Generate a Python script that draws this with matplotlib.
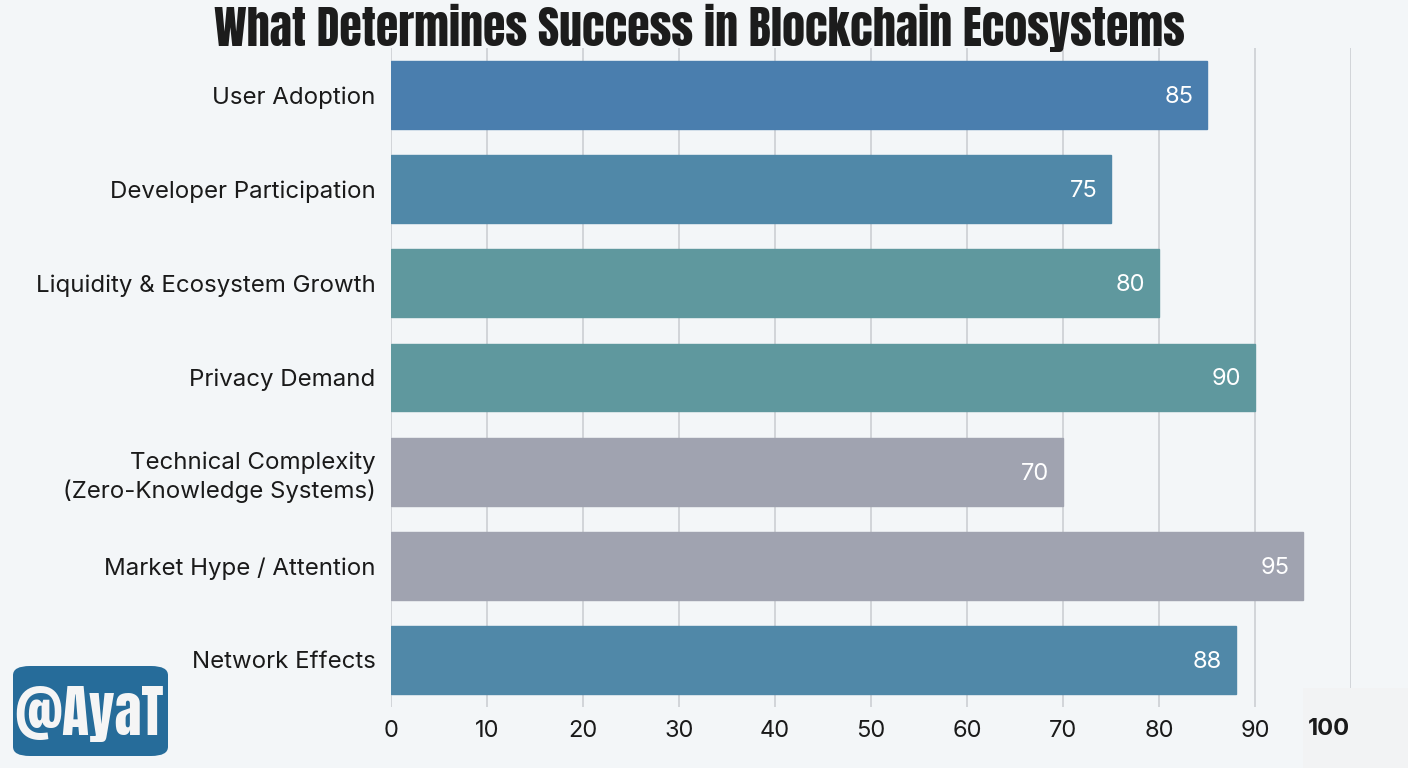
import matplotlib
matplotlib.use('Agg')
import matplotlib.pyplot as plt
from matplotlib.patches import FancyBboxPatch, Rectangle

# Chart data
factors = ['User Adoption', 'Developer Participation', 'Liquidity & Ecosystem Growth',
           'Privacy Demand', 'Technical Complexity\n(Zero-Knowledge Systems)',
           'Market Hype / Attention', 'Network Effects']
scores = [85, 75, 80, 90, 70, 95, 88]
bar_colors = ['#4a7eae', '#5088a8', '#5f989e', '#5f989e', '#a0a3b0', '#a0a3b0', '#5088a8']
x_ticks = [0, 10, 20, 30, 40, 50, 60, 70, 80, 90, 100]

title = 'What Determines Success in Blockchain Ecosystems'
watermark = '@AyaT'

bg = '#f3f6f8'
plt.rcParams['font.family'] = ['Inter', 'DejaVu Sans']
heavy = ['Anton', 'Oswald', 'Barlow Condensed', 'DejaVu Sans']

fig = plt.figure(figsize=(14.08, 7.68), dpi=100)
fig.patch.set_facecolor(bg)
ax = fig.add_axes([0.2777, 0.0794, 0.6818, 0.8581])
ax.set_facecolor(bg)

y_pos = list(range(len(factors)))
ax.barh(y_pos, scores, height=0.72, color=bar_colors, edgecolor=bar_colors,
        linewidth=1, zorder=3)

# value labels inside bars
for y, v in zip(y_pos, scores):
    ax.text(v - 1.4, y + 0.02, str(v), ha='right', va='center', color='white',
            fontsize=17, zorder=4)

ax.set_xlim(0, 100)
ax.set_ylim(len(factors) - 0.5, -0.5)
ax.set_yticks(y_pos)
ax.set_yticklabels(factors, fontsize=17.3, color='#1a1a1a', linespacing=1.3)
ax.set_xticks(x_ticks)
ax.set_xticklabels([str(t) if t != 100 else '' for t in x_ticks],
                   fontsize=17, color='#1a1a1a')
ax.tick_params(axis='both', length=0)
ax.tick_params(axis='x', pad=9)
ax.tick_params(axis='y', pad=11)

ax.grid(axis='x', color='#d2d5d9', linewidth=1.4)
ax.set_axisbelow(True)
for s in ax.spines.values():
    s.set_visible(False)

# patch behind the "100" label
fig.add_artist(Rectangle((1303 / 1408, 0), 105 / 1408, 80 / 768,
                         transform=fig.transFigure, facecolor='#f2f3f4',
                         edgecolor='none', zorder=2))
fig.text(1329 / 1408, 1 - 729 / 768, '100', ha='center', va='center',
         fontsize=17, fontweight='bold', color='#1a1a1a', zorder=3)

# title
fig.text(0.497, 1 - 28 / 768, title, ha='center', va='center',
         fontsize=33, family=heavy, color='#1c1c1c')

# watermark badge
fig.add_artist(FancyBboxPatch((13 / 1408, 12 / 768), 155 / 1408, 90 / 768,
                              boxstyle='round,pad=0,rounding_size=0.012',
                              transform=fig.transFigure, facecolor='#266c9a',
                              edgecolor='none', zorder=2))
fig.text(89 / 1408, 1 - 714 / 768, watermark, ha='center', va='center',
         fontsize=40, family=heavy, color='#f5f5f5', zorder=3)

fig.savefig('out.png', dpi=100, facecolor=bg)
